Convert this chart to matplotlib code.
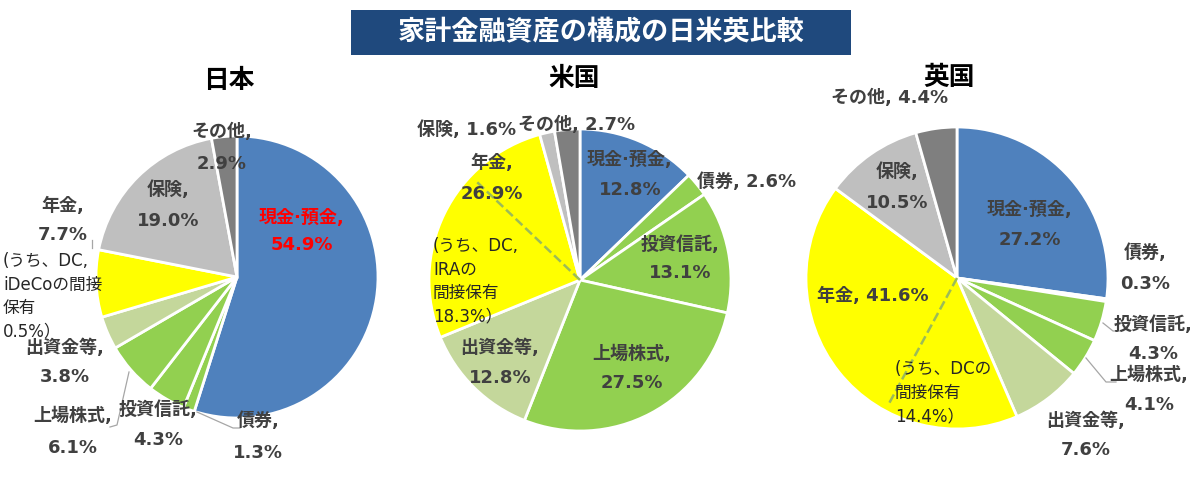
import numpy as np
import matplotlib.pyplot as plt
from matplotlib.patches import Rectangle

plt.rcParams['font.family'] = ['Noto Sans CJK JP', 'DejaVu Sans']
LAT = ['DejaVu Sans', 'Noto Sans CJK JP']  # Verdana-like digits, CJK fallback

categories = ['現金·預金', '債券', '投資信託', '上場株式', '出資金等', '年金', '保険', 'その他']
japan = [54.9, 1.3, 4.3, 6.1, 3.8, 7.7, 19.0, 2.9]
usa = [12.8, 2.6, 13.1, 27.5, 12.8, 26.9, 1.6, 2.7]
uk = [27.2, 0.3, 4.3, 4.1, 7.6, 41.6, 10.5, 4.4]
countries = ['日本', '米国', '英国']
# DC share inside the pension slice
dc_share = {'日本': 0.5, '米国': 18.3, '英国': 14.4}
dc_notes = {
    '日本': '(うち、DC,\niDeCoの間接\n保有\n0.5%）',
    '米国': '(うち、DC,\nIRAの\n間接保有\n18.3%）',
    '英国': '(うち、DCの\n間接保有\n14.4%）',
}

colors = ['#4f81bd', '#92d050', '#92d050', '#92d050', '#c4d79b',
          '#ffff00', '#bfbfbf', '#7f7f7f']
txt_col = '#404040'

# layout in pixel coords (y downward)
centers = {'日本': (237, 277, 141), '米国': (580, 280, 151), '英国': (957, 278, 151)}
title_pos = {'日本': (229, 80), '米国': (574, 78), '英国': (949, 77)}

# label positions: (x, name line y, value line y); None => single line
label_pos = {
    '日本': [(302, 218, 245), (258, 421, 453), (158, 410, 440), (73, 416, 448),
             (65, 348, 377), (63, 206, 235), (168, 190, 221), (222, 132, 164)],
    '米国': [(630, 160, 190), (747, 182, None), (680, 245, 273), (632, 354, 383),
             (500, 348, 378), (492, 163, 194), (467, 130, None), (577, 125, None)],
    '英国': [(1030, 210, 240), (1145, 253, 284), (1153, 325, 354), (1149, 375, 405),
             (1086, 421, 450), (873, 296, None), (897, 172, 203), (890, 98, None)],
}
note_pos = {'日本': (3, 252), '米国': (433, 237), '英国': (895, 360)}

leaders = {
    '日本': [[(197, 412), (233, 428), (240, 428)],
             [(129, 372), (117, 425), (110, 427)],
             [(92, 240), (92, 248)]],
    '米国': [],
    '英国': [[(1103, 323), (1113, 331), (1121, 331)],
             [(1086, 358), (1106, 382), (1116, 382)]],
}

fig = plt.figure(figsize=(12, 4.79), dpi=100)
ax = fig.add_axes([0, 0, 1, 1])

data = {'日本': japan, '米国': usa, '英国': uk}
for c in countries:
    cx, cy, r = centers[c]
    vals = data[c]
    ax.pie(vals, colors=colors, startangle=-90, counterclock=True,
           center=(cx, cy), radius=r,
           wedgeprops=dict(edgecolor='white', linewidth=2))
    # dashed line splitting pension slice
    if dc_share[c] > 1:
        frac = (sum(vals[:5]) + dc_share[c]) / sum(vals)
        th = np.deg2rad(-90 + 360 * frac)
        ax.plot([cx, cx + 0.95 * r * np.cos(th)], [cy, cy + 0.95 * r * np.sin(th)],
                ls='--', color='#9bbb59', lw=1.8, zorder=5)
    for i, (cat, v) in enumerate(zip(categories, vals)):
        x, y1, y2 = label_pos[c][i]
        col = '#ff0000' if (c == '日本' and i == 0) else txt_col
        if y2 is None:
            ax.text(x, y1, f'{cat}, {v:.1f}%', ha='center', va='center', family=LAT,
                    fontsize=13, fontweight='bold', color=col, zorder=6)
        else:
            ax.text(x, y1, f'{cat},', ha='center', va='center', family=LAT,
                    fontsize=13, fontweight='bold', color=col, zorder=6)
            ax.text(x, y2, f'{v:.1f}%', ha='center', va='center', family=LAT,
                    fontsize=13, fontweight='bold', color=col, zorder=6)
    nx, ny = note_pos[c]
    ax.text(nx, ny, dc_notes[c], ha='left', va='top', fontsize=12, family=LAT,
            color='#262626', linespacing=1.4, zorder=6)
    for seg in leaders[c]:
        xs, ys = zip(*seg)
        ax.plot(xs, ys, color='#a6a6a6', lw=0.9, zorder=4)
    tx, ty = title_pos[c]
    ax.text(tx, ty, c, ha='center', va='center', fontsize=18.5,
            fontweight='bold', color='black')

# title banner
ax.add_patch(Rectangle((351, 10), 500, 45, facecolor='#1f497d', edgecolor='none'))
ax.text(601, 32, '家計金融資産の構成の日米英比較', ha='center', va='center',
        fontsize=19.5, fontweight='bold', color='white')

ax.set_xlim(0, 1200)
ax.set_ylim(479, 0)
ax.set_aspect('auto')
ax.axis('off')

fig.savefig('out.png', dpi=100)
